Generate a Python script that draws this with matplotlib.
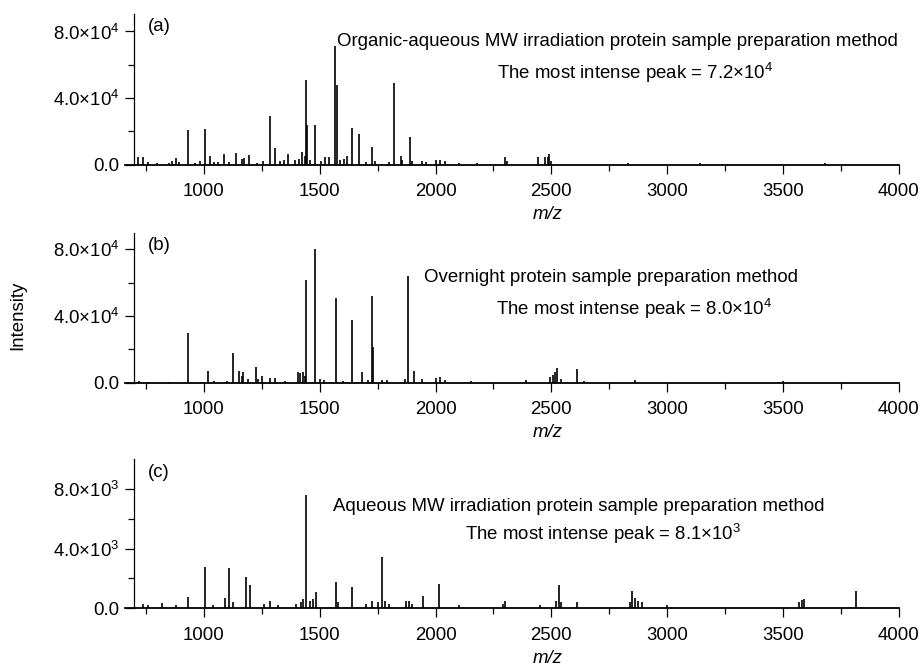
import matplotlib
matplotlib.use('Agg')
import matplotlib.pyplot as plt
from matplotlib.ticker import FixedLocator
import numpy as np

plt.rcParams['font.family'] = ['Liberation Sans', 'DejaVu Sans']
plt.rcParams['mathtext.fontset'] = 'custom'
plt.rcParams['mathtext.rm'] = 'Liberation Sans'
plt.rcParams['mathtext.it'] = 'Liberation Sans:italic'
fs = 13.4

# peak lists (m/z, intensity)
mz_a = [717, 738, 760, 800, 850, 865, 878, 895, 932, 960, 985, 1004, 1029, 1045,
        1060, 1086, 1110, 1141, 1165, 1175, 1195, 1230, 1255, 1284, 1307, 1330,
        1345, 1365, 1395, 1410, 1425, 1435, 1441, 1447, 1460, 1481, 1505, 1521,
        1540, 1568, 1575, 1590, 1605, 1619, 1641, 1669, 1700, 1724, 1740, 1800,
        1823, 1849, 1855, 1889, 1900, 1940, 1960, 2003, 2021, 2040, 2100, 2180,
        2300, 2310, 2444, 2474, 2484, 2491, 2500, 2830, 3140, 3680]
int_a = [4800, 4400, 1500, 800, 1200, 2000, 4000, 1500, 21000, 1200, 2000, 21400,
         5200, 1500, 1800, 6400, 1500, 6800, 3200, 4000, 5800, 1200, 2000, 29000,
         10200, 2500, 3000, 6400, 3000, 3200, 7600, 5000, 50900, 23900, 3000,
         24000, 2000, 4400, 4400, 71000, 47900, 3000, 3500, 5200, 21900, 18400,
         1500, 10600, 2000, 1500, 49300, 5200, 3000, 16800, 2500, 2000, 1500, 2800,
         2800, 2000, 800, 1000, 4800, 2500, 4800, 4800, 4400, 6400, 2000, 1200,
         800, 900]

mz_b = [720, 760, 850, 930, 1020, 1045, 1100, 1124, 1151, 1165, 1169, 1190, 1224,
        1235, 1251, 1286, 1309, 1350, 1406, 1417, 1427, 1435, 1443, 1481, 1500,
        1520, 1570, 1600, 1641, 1684, 1710, 1725, 1731, 1770, 1790, 1870, 1882,
        1908, 1940, 2003, 2021, 2040, 2155, 2390, 2492, 2506, 2515, 2523, 2540,
        2612, 2640, 2860, 3500]
int_b = [800, 600, 700, 29800, 6800, 1200, 1000, 17600, 6800, 4000, 6400, 2000,
         9400, 2000, 4200, 3000, 2800, 1200, 6400, 5800, 6200, 4000, 61400, 80000,
         2500, 1500, 50800, 1200, 37800, 6400, 1500, 52000, 21200, 1500, 1800,
         2500, 64200, 6800, 2000, 2800, 3600, 1800, 1000, 1400, 3600, 4400, 6600,
         8600, 2500, 8400, 1200, 1600, 1000]

mz_c = [738, 760, 820, 880, 931, 1004, 1040, 1091, 1109, 1126, 1181, 1198, 1262,
        1287, 1320, 1400, 1420, 1430, 1443, 1460, 1470, 1483, 1569, 1580, 1641,
        1700, 1725, 1750, 1768, 1780, 1800, 1871, 1885, 1900, 1948, 2013, 2100,
        2290, 2302, 2450, 2520, 2531, 2540, 2611, 2840, 2850, 2860, 2875, 2890,
        3000, 3569, 3580, 3590, 3813]
int_c = [290, 200, 330, 200, 755, 2780, 250, 690, 2710, 420, 2110, 1555, 310, 490,
         250, 300, 400, 600, 7600, 500, 600, 1070, 1730, 400, 1420, 300, 490, 450,
         3420, 500, 300, 460, 480, 300, 840, 1600, 200, 300, 510, 200, 500, 1530,
         400, 440, 400, 1150, 700, 500, 400, 200, 445, 555, 620, 1155]

panels = ['(a)', '(b)', '(c)']
methods = ['Organic-aqueous MW irradiation protein sample preparation method',
           'Overnight protein sample preparation method',
           'Aqueous MW irradiation protein sample preparation method']
peak_txt = [r'The most intense peak = 7.2$\times$10$^{4}$',
            r'The most intense peak = 8.0$\times$10$^{4}$',
            r'The most intense peak = 8.1$\times$10$^{3}$']
ytick_lbl = [['0.0', r'4.0$\times$10$^{4}$', r'8.0$\times$10$^{4}$'],
             ['0.0', r'4.0$\times$10$^{4}$', r'8.0$\times$10$^{4}$'],
             ['0.0', r'4.0$\times$10$^{3}$', r'8.0$\times$10$^{3}$']]

data = [(mz_a, int_a), (mz_b, int_b), (mz_c, int_c)]
scale = [1e4, 1e4, 1e3]
ytop = [9.05, 9.0, 10.0]
rects = [[0.136, 0.7542, 0.8422, 0.2249],
         [0.136, 0.4288, 0.8422, 0.2239],
         [0.136, 0.0921, 0.8422, 0.2228]]
txt_pos = [((1575, 7.38), (2265, 5.52)),
           ((1950, 6.34), (2261, 4.42)),
           ((1557, 6.82), (2127, 4.95))]
lbl_y = [8.28, 8.26, 9.09]

fig = plt.figure(figsize=(9.19, 6.70), dpi=100)
for i in range(3):
    ax = fig.add_axes(rects[i])
    mz, inten = data[i]
    y = np.array(inten) / scale[i]
    ax.vlines(mz, 0, y, color='black', lw=1.2)
    ax.set_xlim(660, 4000)
    ax.set_ylim(0, ytop[i])
    ax.spines['top'].set_visible(False)
    ax.spines['right'].set_visible(False)
    ax.spines['left'].set_position(('data', 700))
    ax.spines['left'].set_linewidth(0.9)
    ax.spines['bottom'].set_linewidth(1.3)
    ax.set_xticks([1000, 1500, 2000, 2500, 3000, 3500, 4000])
    ax.xaxis.set_minor_locator(FixedLocator(np.arange(750, 4000, 500)))
    ax.set_yticks([0, 4, 8])
    ax.set_yticklabels(ytick_lbl[i])
    ax.yaxis.set_minor_locator(FixedLocator([2, 6]))
    ax.tick_params(which='major', direction='out', length=6.5, width=0.9,
                   labelsize=fs)
    ax.tick_params(which='minor', direction='out', length=4, width=0.9)
    ax.tick_params(axis='x', pad=7)
    ax.tick_params(axis='y', pad=4)
    ax.text(760, lbl_y[i], panels[i], fontsize=fs, va='center', ha='left')
    (x1, y1), (x2, y2) = txt_pos[i]
    ax.text(x1, y1, methods[i], fontsize=fs, va='center', ha='left')
    ax.text(x2, y2, peak_txt[i], fontsize=fs, va='center', ha='left')
    ax.text(0.5465, -50 / (rects[i][3] * 670), 'm/z', style='italic',
            fontsize=fs, ha='center', va='center', transform=ax.transAxes)

fig.text(18 / 919, 1 - 315 / 670, 'Intensity', rotation=90, fontsize=fs,
         ha='center', va='center')

fig.savefig('out.png', dpi=100)
